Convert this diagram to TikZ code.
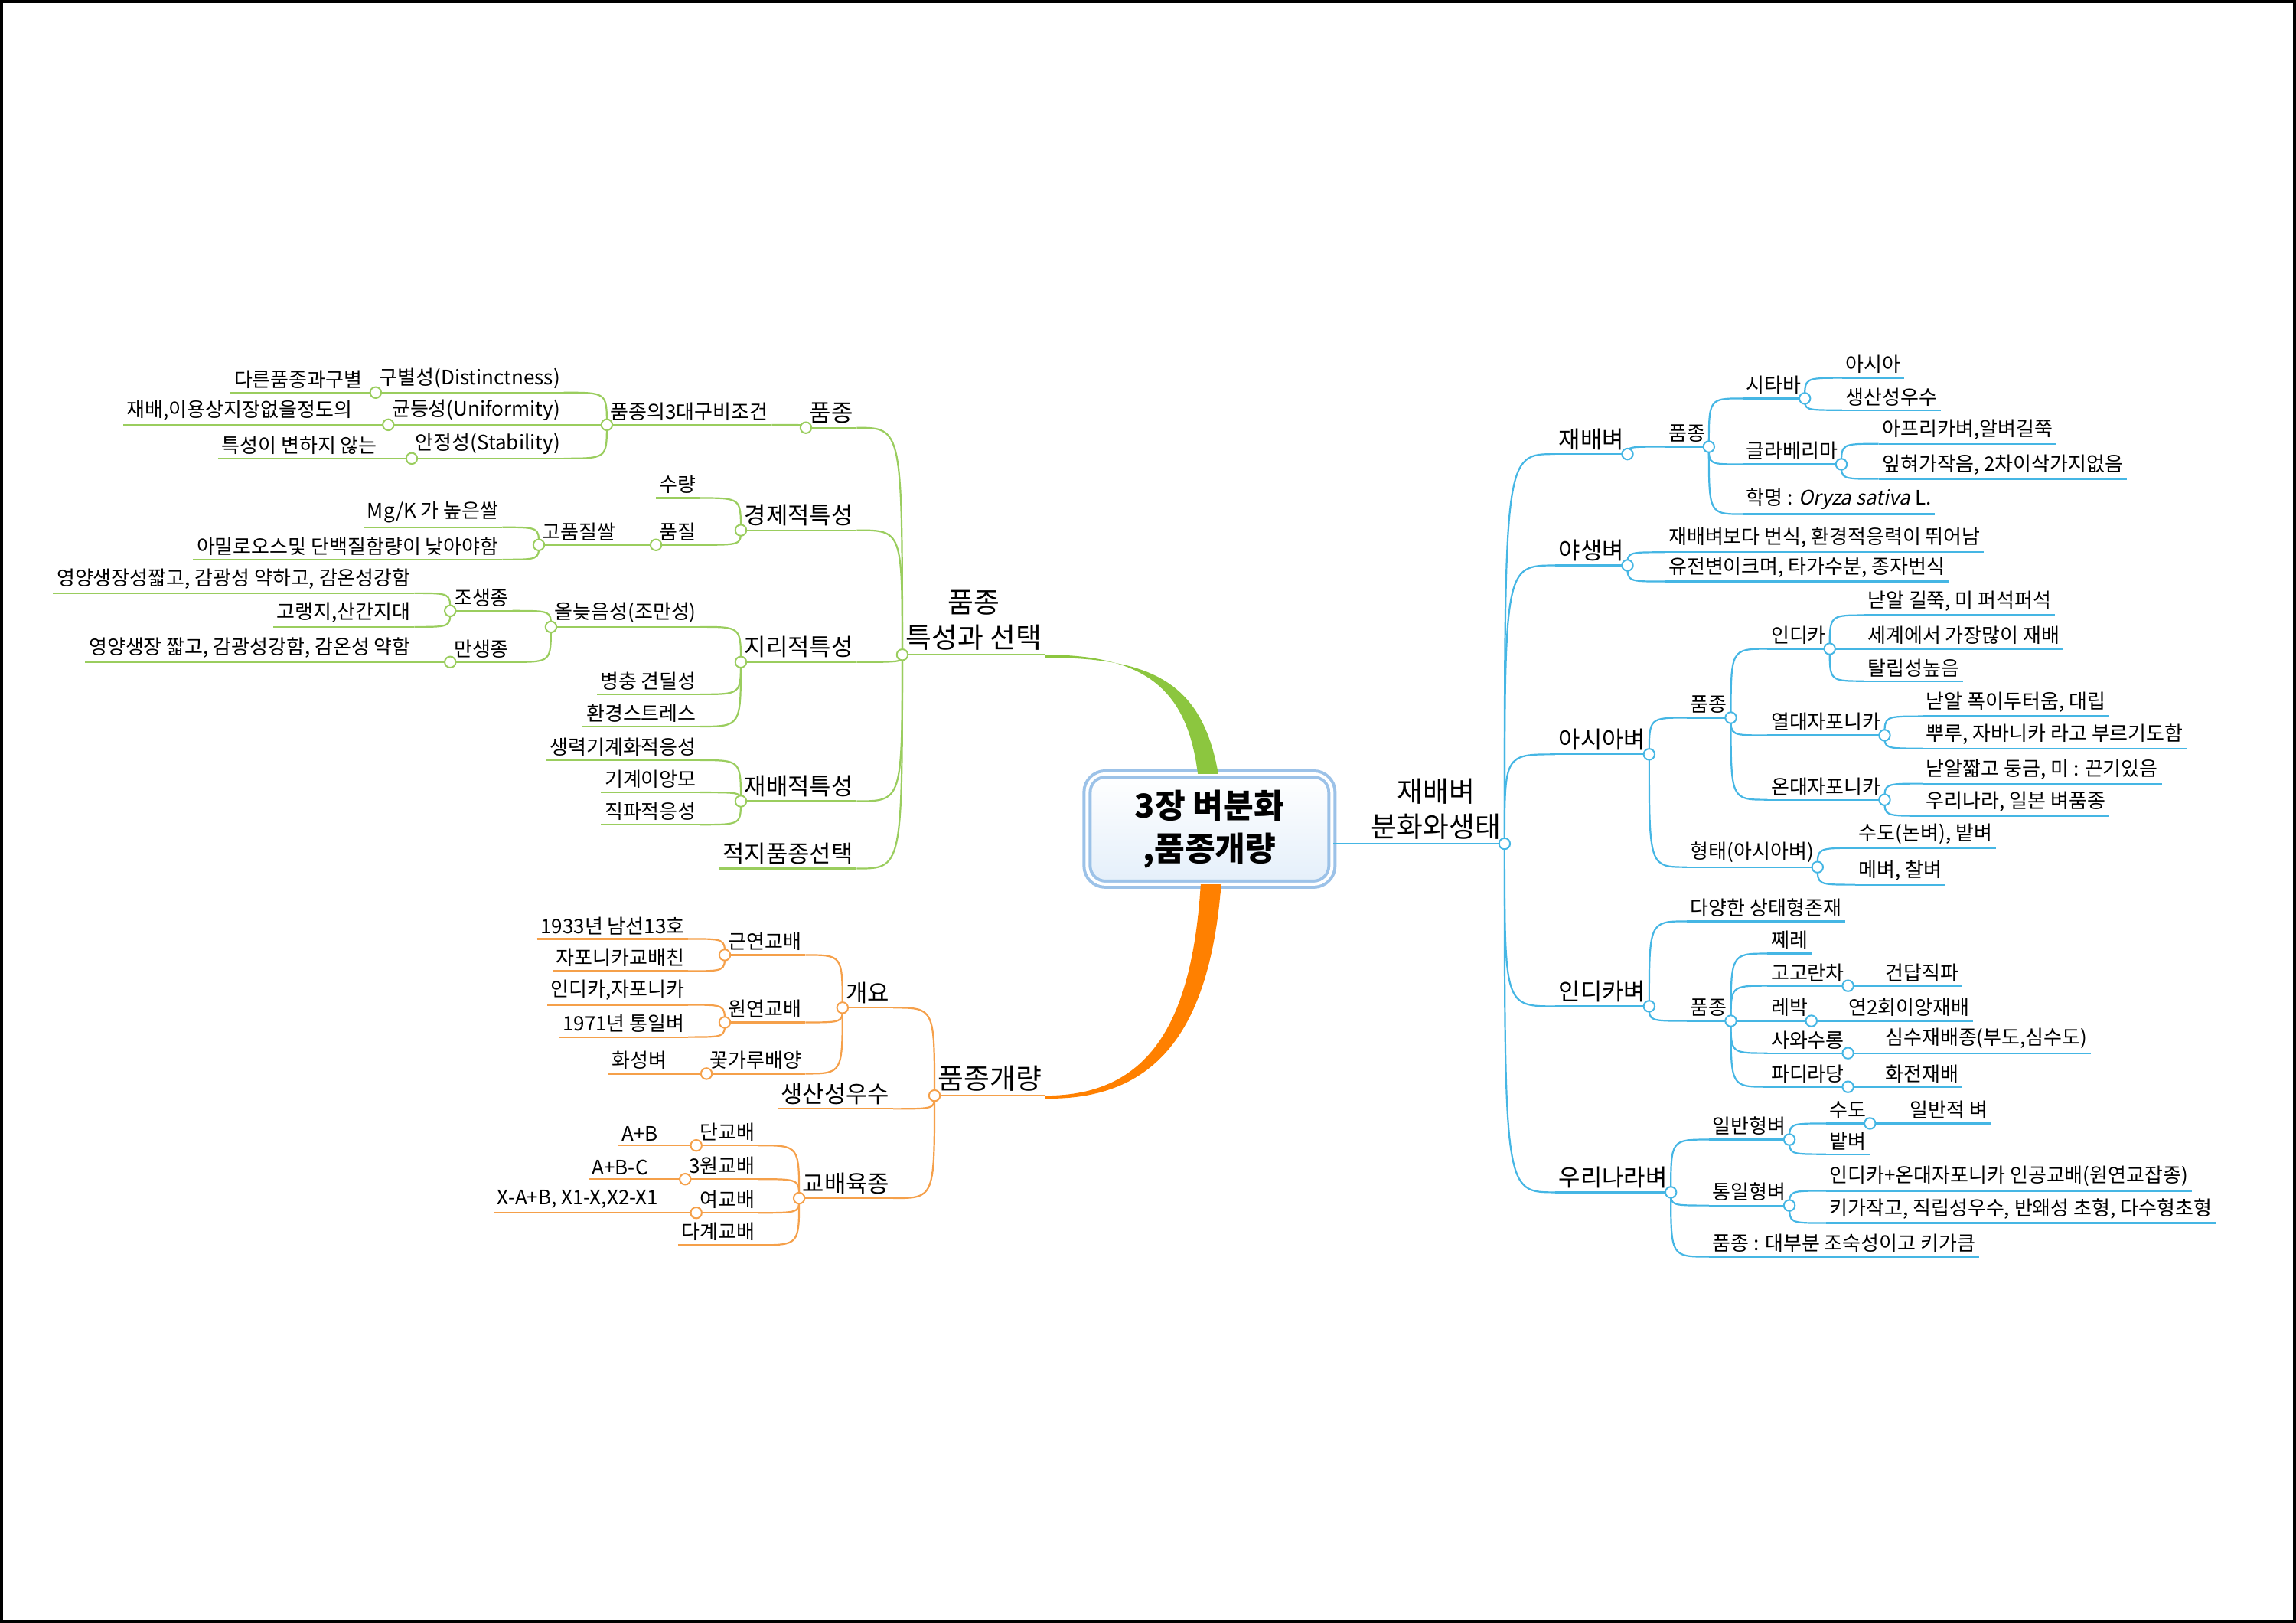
\documentclass[tikz,border=0pt]{standalone}
\usepackage{fontspec}
\setmainfont{Noto Sans CJK KR}
\newfontfamily\itf[FakeSlant=0.2]{Noto Sans CJK KR}
\usetikzlibrary{calc}
\definecolor{gr}{HTML}{9ACD5E}
\definecolor{grk}{HTML}{8CC63F}
\definecolor{bl}{HTML}{45B6E4}
\definecolor{orl}{HTML}{F5A04A}
\definecolor{ork}{HTML}{FF8000}
\definecolor{bx}{HTML}{9CC2E8}
\definecolor{bxl}{HTML}{E4EFFA}
\colorlet{brc}{gr}
\tikzset{
 tp/.style={inner xsep=1pt,inner ysep=1.2pt,text=black},
 f1/.style={font=\fontsize{9.2}{11.5}\selectfont},
 f2/.style={font=\fontsize{7.7}{9}\selectfont},
 f3/.style={font=\fontsize{6.5}{7.5}\selectfont},
 ul/.style={draw=brc,line width=0.55pt},
 dot/.style={circle,draw=brc,fill=white,line width=0.5pt,inner sep=0pt,minimum size=3.6pt}
}
\newcommand\LN[5][f3]{\node[tp,#1,anchor=south east] (#2) at (#3,#4) {#5}; \draw[ul] (#2.south west)--(#2.south east);}
\newcommand\RN[5][f3]{\node[tp,#1,anchor=south west] (#2) at (#3,#4) {#5}; \draw[ul] (#2.south west)--(#2.south east);}
\newcommand\LC[2]{\draw[ul] (#1.south west) .. controls (#1.south west |- #2.south east) .. (#2.south east);}
\newcommand\RC[2]{\draw[ul] (#1.south east) .. controls (#1.south east |- #2.south west) .. (#2.south west);}
\newcommand\LD[1]{\node[dot] at (#1.south west) {};}
\newcommand\RD[1]{\node[dot] at (#1.south east) {};}
\begin{document}
\begin{tikzpicture}[x=0.4783pt,y=-0.4783pt]
\useasboundingbox (0,0) rectangle (1568,1108);
\draw[line width=1.2pt] (1,1) rectangle (1567,1107);
% center
\node[draw=bx,line width=1pt,rounded corners=6pt,double=white,double distance=1pt,
  top color=white,bottom color=bxl,minimum width=80pt,minimum height=36pt,
  align=center,font=\bfseries\fontsize{10.8}{14}\selectfont] (c) at (826,566) {3장 벼분화\\,품종개량};
% green
\begin{scope}
\colorlet{brc}{gr}
\node[tp,f1,align=center,anchor=south east] (g0) at (714,447) {품종\\특성과 선택};
\draw[ul] (g0.south west)--(g0.south east);
\fill[grk] (g0.south east) .. controls ($(g0.south east)+(70,0)$) and ($(c.north)+(-15,-55)$) .. ($(c.north)+(-8,1)$)
  -- ($(c.north)+(6,1)$) .. controls ($(c.north)+(-5,-62)$) and ($(g0.south east)+(72,2)$) .. ($(g0.south east)+(0,2)$) -- cycle;
\LN[f2]{g1}{585}{292}{품종}
\LN{g11}{527}{290}{품종의3대구비조건}
\LN{g111}{385}{268}{구별성(Distinctness)}
\LN{g1111}{250}{268}{다른품종과구별}
\LN{g112}{385}{290}{균등성(Uniformity)}
\LN{g1121}{243}{290}{재배,이용상지장없을정도의}
\LN{g113}{385}{313}{안정성(Stability)}
\LN{g1131}{260}{313}{특성이 변하지 않는}
\LN[f2]{g2}{585}{362}{경제적특성}
\LN{g21}{478}{340}{수량}
\LN{g22}{478}{372}{품질}
\LN{g221}{423}{372}{고품질쌀}
\LN{g2211}{343}{360}{Mg/K 가 높은쌀}
\LN{g2212}{343}{382}{아밀로오스및 단백질함량이 낮아야함}
\LN[f2]{g3}{585}{452}{지리적특성}
\LN{g31}{478}{428}{올늦음성(조만성)}
\LN{g311}{350}{417}{조생종}
\LN{g3111}{283}{405}{영양생장성짧고, 감광성 약하고, 감온성강함}
\LN{g3112}{283}{428}{고랭지,산간지대}
\LN{g312}{350}{452}{만생종}
\LN{g3121}{283}{452}{영양생장 짧고, 감광성강함, 감온성 약함}
\LN{g32}{478}{474}{병충 견딜성}
\LN{g33}{478}{496}{환경스트레스}
\LN[f2]{g4}{585}{547}{재배적특성}
\LN{g41}{478}{519}{생력기계화적응성}
\LN{g42}{478}{541}{기계이앙모}
\LN{g43}{478}{563}{직파적응성}
\LN[f2]{g5}{585}{593}{적지품종선택}
\LC{g0}{g1}\LC{g0}{g2}\LC{g0}{g3}\LC{g0}{g4}\LC{g0}{g5}
\LC{g1}{g11}\LC{g11}{g111}\LC{g11}{g112}\LC{g11}{g113}
\LC{g111}{g1111}\LC{g112}{g1121}\LC{g113}{g1131}
\LC{g2}{g21}\LC{g2}{g22}\LC{g22}{g221}\LC{g221}{g2211}\LC{g221}{g2212}
\LC{g3}{g31}\LC{g3}{g32}\LC{g3}{g33}\LC{g31}{g311}\LC{g31}{g312}
\LC{g311}{g3111}\LC{g311}{g3112}\LC{g312}{g3121}
\LC{g4}{g41}\LC{g4}{g42}\LC{g4}{g43}
\LD{g0}\LD{g1}\LD{g11}\LD{g111}\LD{g112}\LD{g113}\LD{g2}\LD{g22}\LD{g221}
\LD{g3}\LD{g31}\LD{g311}\LD{g312}\LD{g4}
\end{scope}
% orange
\begin{scope}
\colorlet{brc}{orl}
\node[tp,f1,anchor=south east] (o0) at (714,748) {품종개량};
\draw[ul] (o0.south west)--(o0.south east);
\fill[ork] ($(c.south)+(-6,-1)$) .. controls ($(c.south)+(-12,95)$) and ($(o0.south east)+(70,0)$) .. (o0.south east)
  -- ($(o0.south east)+(0,2)$) .. controls ($(o0.south east)+(75,3)$) and ($(c.south)+(0,100)$) .. ($(c.south)+(8,-1)$) -- cycle;
\LN[f2]{o1}{610}{688}{개요}
\LN{o11}{550}{652}{근연교배}
\LN{o111}{470}{641}{1933년 남선13호}
\LN{o112}{470}{663}{자포니카교배친}
\LN{o12}{550}{698}{원연교배}
\LN{o121}{470}{686}{인디카,자포니카}
\LN{o122}{470}{708}{1971년 통일벼}
\LN{o13}{550}{733}{꽃가루배양}
\LN{o131}{458}{733}{화성벼}
\LN[f2]{o2}{610}{757}{생산성우수}
\LN[f2]{o3}{610}{818}{교배육종}
\LN{o31}{518}{782}{단교배}
\LN{o311}{452}{782}{A+B}
\LN{o32}{518}{805}{3원교배}
\LN{o321}{445}{805}{A+B-C}
\LN{o33}{518}{828}{여교배}
\LN{o331}{452}{828}{X-A+B, X1-X,X2-X1}
\LN{o34}{518}{850}{다계교배}
\LC{o0}{o1}\LC{o0}{o2}\LC{o0}{o3}
\LC{o1}{o11}\LC{o1}{o12}\LC{o1}{o13}
\LC{o11}{o111}\LC{o11}{o112}\LC{o12}{o121}\LC{o12}{o122}\LC{o13}{o131}
\LC{o3}{o31}\LC{o3}{o32}\LC{o3}{o33}\LC{o3}{o34}
\LC{o31}{o311}\LC{o32}{o321}\LC{o33}{o331}
\LD{o0}\LD{o1}\LD{o11}\LD{o12}\LD{o13}\LD{o3}\LD{o31}\LD{o32}\LD{o33}
\end{scope}
% blue
\begin{scope}
\colorlet{brc}{bl}
\node[tp,f1,align=center,anchor=south west] (b0) at (934,576) {재배벼\\분화와생태};
\draw[ul] (c.east |- b0.south)--(b0.south east);
\RN[f2]{b1}{1062}{310}{재배벼}
\RN{b11}{1137}{305}{품종}
\RN{b111}{1190}{272}{시타바}
\RN{b1111}{1258}{258}{아시아}
\RN{b1112}{1258}{280}{생산성우수}
\RN{b112}{1190}{317}{글라베리마}
\RN{b1121}{1283}{303}{아프리카벼,알벼길쭉}
\RN{b1122}{1283}{327}{잎혀가작음, 2차이삭가지없음}
\RN{b113}{1190}{351}{학명 : {\itf Oryza sativa} L.}
\RN[f2]{b2}{1062}{386}{야생벼}
\RN{b21}{1137}{377}{재배벼보다 번식, 환경적응력이 뛰어남}
\RN{b22}{1137}{397}{유전변이크며, 타가수분, 종자번식}
\RN[f2]{b3}{1062}{515}{아시아벼}
\RN{b31}{1152}{490}{품종}
\RN{b311}{1207}{443}{인디카}
\RN{b3111}{1273}{420}{낟알 길쭉, 미 퍼석퍼석}
\RN{b3112}{1273}{443}{세계에서 가장많이 재배}
\RN{b3113}{1273}{465}{탈립성높음}
\RN{b312}{1207}{502}{열대자포니카}
\RN{b3121}{1313}{489}{낟알 폭이두터움, 대립}
\RN{b3122}{1313}{511}{뿌루, 자바니카 라고 부르기도함}
\RN{b313}{1207}{546}{온대자포니카}
\RN{b3131}{1313}{535}{낟알짧고 둥금, 미 : 끈기있음}
\RN{b3132}{1313}{557}{우리나라, 일본 벼품종}
\RN{b32}{1152}{592}{형태(아시아벼)}
\RN{b321}{1267}{579}{수도(논벼), 밭벼}
\RN{b322}{1267}{604}{메벼, 찰벼}
\RN[f2]{b4}{1062}{687}{인디카벼}
\RN{b41}{1152}{629}{다양한 상태형존재}
\RN{b42}{1152}{697}{품종}
\RN{b421}{1207}{651}{쩨레}
\RN{b422}{1207}{673}{고고란차}
\RN{b4221}{1285}{673}{건답직파}
\RN{b423}{1207}{697}{레박}
\RN{b4231}{1260}{697}{연2회이앙재배}
\RN{b424}{1207}{719}{사와수롱}
\RN{b4241}{1285}{719}{심수재배종(부도,심수도)}
\RN{b425}{1207}{742}{파디라당}
\RN{b4251}{1285}{742}{화전재배}
\RN[f2]{b5}{1062}{814}{우리나라벼}
\RN{b51}{1167}{778}{일반형벼}
\RN{b511}{1247}{767}{수도}
\RN{b5111}{1302}{767}{일반적 벼}
\RN{b512}{1247}{788}{밭벼}
\RN{b52}{1167}{823}{통일형벼}
\RN{b521}{1247}{813}{인디카+온대자포니카 인공교배(원연교잡종)}
\RN{b522}{1247}{835}{키가작고, 직립성우수, 반왜성 초형, 다수형초형}
\RN{b53}{1167}{858}{품종 : 대부분 조숙성이고 키가큼}
\RC{b0}{b1}\RC{b0}{b2}\RC{b0}{b3}\RC{b0}{b4}\RC{b0}{b5}
\RC{b1}{b11}\RC{b11}{b111}\RC{b11}{b112}\RC{b11}{b113}
\RC{b111}{b1111}\RC{b111}{b1112}\RC{b112}{b1121}\RC{b112}{b1122}
\RC{b2}{b21}\RC{b2}{b22}
\RC{b3}{b31}\RC{b3}{b32}\RC{b31}{b311}\RC{b31}{b312}\RC{b31}{b313}
\RC{b311}{b3111}\RC{b311}{b3112}\RC{b311}{b3113}
\RC{b312}{b3121}\RC{b312}{b3122}\RC{b313}{b3131}\RC{b313}{b3132}
\RC{b32}{b321}\RC{b32}{b322}
\RC{b4}{b41}\RC{b4}{b42}\RC{b42}{b421}\RC{b42}{b422}\RC{b42}{b423}\RC{b42}{b424}\RC{b42}{b425}
\RC{b422}{b4221}\RC{b423}{b4231}\RC{b424}{b4241}\RC{b425}{b4251}
\RC{b5}{b51}\RC{b5}{b52}\RC{b5}{b53}\RC{b51}{b511}\RC{b51}{b512}\RC{b511}{b5111}
\RC{b52}{b521}\RC{b52}{b522}
\RD{b0}\RD{b1}\RD{b11}\RD{b111}\RD{b112}\RD{b2}\RD{b3}\RD{b31}\RD{b311}\RD{b312}\RD{b313}\RD{b32}
\RD{b4}\RD{b42}\RD{b422}\RD{b423}\RD{b424}\RD{b425}\RD{b5}\RD{b51}\RD{b511}\RD{b52}
\end{scope}
\end{tikzpicture}
\end{document}
